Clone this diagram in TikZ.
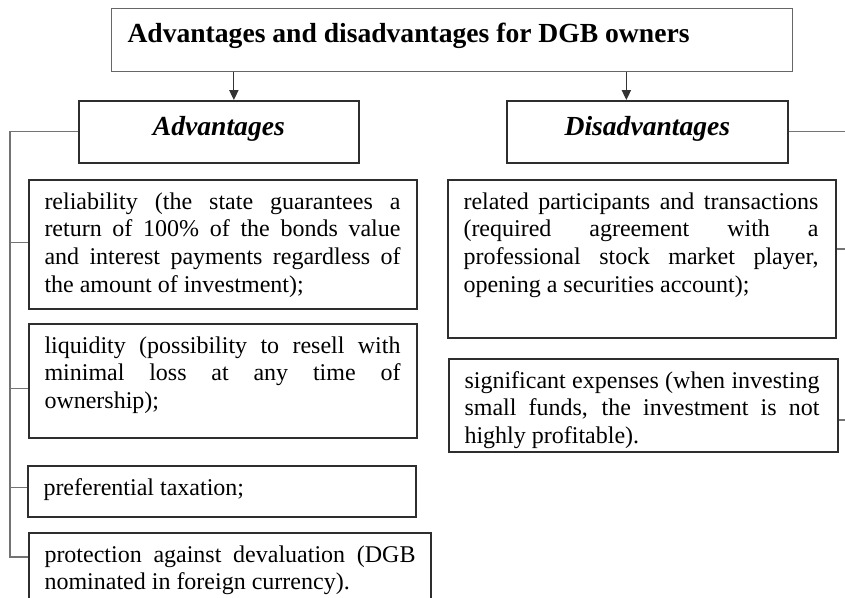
\documentclass[tikz,border=0pt]{standalone}
\usepackage{fontspec}
\setmainfont{Liberation Serif}
\usetikzlibrary{arrows.meta,calc}

\newcommand{\bodytext}{\fontsize{18pt}{20.8pt}\selectfont}
\newcommand{\headtext}{\fontsize{20.7pt}{24pt}\selectfont\bfseries}

\tikzset{every picture/.style={line width=0.75pt}}
\tikzset{
  frame/.style={draw=black!82, line width=1.3pt, anchor=north west, inner sep=0pt},
  titleframe/.style={frame, draw=black!60, line width=0.8pt},
  itemtext/.style={anchor=base west, inner sep=0pt, align=justify, font=\bodytext},
  link/.style={draw=black!55, line width=0.8pt},
  linkarrow/.style={draw=black!80, line width=0.8pt, -{Triangle[length=7.5pt,width=7pt]}},
}

\begin{document}
\begin{tikzpicture}[x=0.75pt,y=0.75pt,yscale=-1.0,xscale=1.0]
    \useasboundingbox (0,0) rectangle (845,597);
    \clip (0,0) rectangle (845,597);

    % Text Node
    \node[titleframe, minimum width=510.75pt, minimum height=47.25pt] (title) at (111,8) {};
    \node[anchor=base west, inner sep=0pt, font=\headtext] (titletext) at ($(title.north west)+(16,34)$) {Advantages and disadvantages for DGB owners};
    % Text Node
    \node[frame, minimum width=210pt, minimum height=46.5pt] (adv) at (78,100) {};
    \node[anchor=base, inner sep=0pt, font=\headtext\itshape] (advtext) at ($(adv.north)+(0,35)$) {Advantages};
    % Text Node
    \node[frame, minimum width=210.75pt, minimum height=46.5pt] (dis) at (506,100) {};
    \node[anchor=base, inner sep=0pt, font=\headtext\itshape] (distext) at ($(dis.north)+(0,35)$) {Disadvantages};

    % Text Node
    \node[frame, minimum width=291pt, minimum height=96.75pt] (rel) at (28,179) {};
    \node[itemtext, text width=267pt] (reltext) at ($(rel.north west)+(16,30)$) {reliability (the state guarantees a\linebreak return of 100\% of the bonds value\linebreak and interest payments regardless of\linebreak the amount of investment);};
    % Text Node
    \node[frame, minimum width=291pt, minimum height=85.5pt] (liq) at (28,323) {};
    \node[itemtext, text width=267pt] (liqtext) at ($(liq.north west)+(16,30)$) {liquidity (possibility to resell with\linebreak minimal loss at any time of\linebreak ownership);};
    % Text Node
    \node[frame, minimum width=291pt, minimum height=38.25pt] (pref) at (27,465) {};
    \node[itemtext, text width=267pt] (preftext) at ($(pref.north west)+(16,30)$) {preferential taxation;};
    % Text Node
    \node[frame, minimum width=301.5pt, minimum height=75pt] (prot) at (28,532) {};
    \node[itemtext, text width=278.25pt] (prottext) at ($(prot.north west)+(16,30)$) {protection against devaluation (DGB\linebreak nominated in foreign currency).};

    % Text Node
    \node[frame, minimum width=291pt, minimum height=118.5pt] (part) at (447,179) {};
    \node[itemtext, text width=266.25pt] (parttext) at ($(part.north west)+(16,30)$) {related participants and transactions\linebreak (required agreement with a\linebreak professional stock market player,\linebreak opening a securities account);};
    % Text Node
    \node[frame, minimum width=291.75pt, minimum height=69.75pt] (exp) at (448,358) {};
    \node[itemtext, text width=266.25pt] (exptext) at ($(exp.north west)+(16,30)$) {significant expenses (when investing\linebreak small funds, the investment is not\linebreak highly profitable).};

    % Connection
    \draw[linkarrow] ($(title.south -| adv.north)+(15,0)$) -- ($(adv.north)+(15,0)$);
    % Connection
    \draw[linkarrow] ($(title.south -| dis.north)+(-21,0)$) -- ($(dis.north)+(-21,0)$);

    % Connection
    \coordinate (spine) at ($(adv.west)+(-68,0)$);
    \coordinate (reltap) at ($(rel.west)+(0,-2)$);
    \coordinate (liqtap) at ($(liq.west)+(0,8)$);
    \coordinate (preftap) at ($(pref.west)+(0,-4)$);
    \coordinate (prottap) at ($(prot.north west)+(0,25)$);
    \draw[link] (adv.west) -- (spine) -- (spine |- prottap) -- (prottap);
    \draw[link] (reltap -| spine) -- (reltap);
    \draw[link] (liqtap -| spine) -- (liqtap);
    \draw[link] (preftap -| spine) -- (preftap);

    % Connection
    \coordinate (edge) at (850,0);
    \coordinate (parttap) at ($(part.north east)+(0,70)$);
    \coordinate (exptap) at ($(exp.north east)+(0,62)$);
    \draw[link] (dis.east) -- (dis.east -| edge);
    \draw[link] (parttap) -- (parttap -| edge);
    \draw[link] (exptap) -- (exptap -| edge);
\end{tikzpicture}
\end{document}
